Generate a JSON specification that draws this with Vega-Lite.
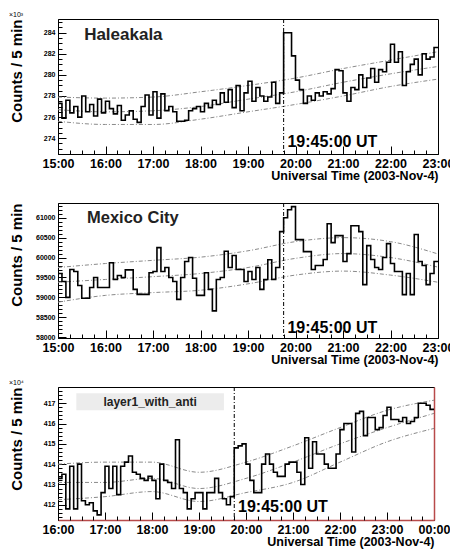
{
 "$schema": "https://vega.github.io/schema/vega-lite/v6.json",
 "padding": {"left": 8, "top": 10, "right": 8, "bottom": 0},
 "background": "white",
 "spacing": 49,
 "bounds": "flush",
 "config": {
  "font": "Liberation Sans",
  "view": {"stroke": "black", "strokeWidth": 1},
  "axis": {"grid": false, "domainColor": "black", "tickColor": "black", "labelColor": "black", "titleColor": "black", "labelFont": "Liberation Sans", "titleFont": "Liberation Sans", "labelFontWeight": "bold", "titleFontWeight": "bold", "labelOverlap": false, "labelFlush": false, "tickSize": -8},
  "axisY": {"titleFontSize": 15, "titleAnchor": "end", "titleAlign": "right", "labelFontSize": 7, "titlePadding": 8, "labelPadding": 11},
  "axisX": {"titleFontSize": 12.5, "titleAnchor": "end", "titleAlign": "right", "labelFontSize": 12.5, "labelPadding": 11, "titlePadding": 0},
  "title": {"fontSize": 7, "fontWeight": "normal", "anchor": "start", "offset": 1, "color": "black"}
 },
 "datasets": {
  "hist1": [
   {"t":15.0,"v":277.3},{"t":15.0833,"v":275.9},{"t":15.1667,"v":277.6},{"t":15.25,"v":276.4},{"t":15.3333,"v":277.0},{"t":15.4167,"v":276.0},{"t":15.5,"v":278.0},{"t":15.5833,"v":276.5},{"t":15.6667,"v":277.2},{"t":15.75,"v":276.1},{"t":15.8333,"v":277.7},{"t":15.9167,"v":276.4},
   {"t":16.0,"v":277.5},{"t":16.0833,"v":276.8},{"t":16.1667,"v":276.3},{"t":16.25,"v":277.1},{"t":16.3333,"v":275.7},{"t":16.4167,"v":276.2},{"t":16.5,"v":276.6},{"t":16.5833,"v":275.8},{"t":16.6667,"v":275.5},{"t":16.75,"v":277.0},{"t":16.8333,"v":278.1},{"t":16.9167,"v":276.2},
   {"t":17.0,"v":278.4},{"t":17.0833,"v":275.9},{"t":17.1667,"v":278.2},{"t":17.25,"v":276.6},{"t":17.3333,"v":277.0},{"t":17.4167,"v":276.5},{"t":17.5,"v":275.6},{"t":17.5833,"v":275.6},{"t":17.6667,"v":275.7},{"t":17.75,"v":276.6},{"t":17.8333,"v":276.8},{"t":17.9167,"v":277.0},
   {"t":18.0,"v":276.5},{"t":18.0833,"v":277.3},{"t":18.1667,"v":276.9},{"t":18.25,"v":277.6},{"t":18.3333,"v":277.2},{"t":18.4167,"v":278.3},{"t":18.5,"v":277.4},{"t":18.5833,"v":278.6},{"t":18.6667,"v":276.9},{"t":18.75,"v":279.0},{"t":18.8333,"v":276.6},{"t":18.9167,"v":278.3},
   {"t":19.0,"v":279.4},{"t":19.0833,"v":277.5},{"t":19.1667,"v":278.8},{"t":19.25,"v":278.0},{"t":19.3333,"v":277.5},{"t":19.4167,"v":277.9},{"t":19.5,"v":279.3},{"t":19.5833,"v":277.3},{"t":19.6667,"v":278.3},{"t":19.75,"v":284.0},{"t":19.8333,"v":284.0},{"t":19.9167,"v":281.8},
   {"t":20.0,"v":279.5},{"t":20.0833,"v":278.6},{"t":20.1667,"v":277.3},{"t":20.25,"v":278.0},{"t":20.3333,"v":277.6},{"t":20.4167,"v":278.3},{"t":20.5,"v":278.0},{"t":20.5833,"v":278.4},{"t":20.6667,"v":278.2},{"t":20.75,"v":278.7},{"t":20.8333,"v":280.5},{"t":20.9167,"v":280.4},
   {"t":21.0,"v":278.3},{"t":21.0833,"v":277.5},{"t":21.1667,"v":278.8},{"t":21.25,"v":278.6},{"t":21.3333,"v":280.0},{"t":21.4167,"v":278.8},{"t":21.5,"v":279.7},{"t":21.5833,"v":280.6},{"t":21.6667,"v":279.3},{"t":21.75,"v":280.5},{"t":21.8333,"v":280.3},{"t":21.9167,"v":281.2},
   {"t":22.0,"v":282.9},{"t":22.0833,"v":281.2},{"t":22.1667,"v":282.2},{"t":22.25,"v":279.0},{"t":22.3333,"v":280.3},{"t":22.4167,"v":281.0},{"t":22.5,"v":281.5},{"t":22.5833,"v":280.0},{"t":22.6667,"v":282.0},{"t":22.75,"v":281.5},{"t":22.8333,"v":281.7},{"t":22.9167,"v":282.6},
   {"t":23.0,"v":282.6}
  ],
  "bands1": [
   {"t":15,"s":"hi","v":277.9},{"t":16,"s":"hi","v":277.8},{"t":17,"s":"hi","v":277.9},{"t":18,"s":"hi","v":278.4},{"t":19,"s":"hi","v":279.0},{"t":20,"s":"hi","v":279.7},{"t":21,"s":"hi","v":280.6},{"t":22,"s":"hi","v":281.4},{"t":23,"s":"hi","v":282.2},
   {"t":15,"s":"mid","v":276.7},{"t":16,"s":"mid","v":276.5},{"t":17,"s":"mid","v":276.6},{"t":18,"s":"mid","v":277.0},{"t":19,"s":"mid","v":277.7},{"t":20,"s":"mid","v":278.4},{"t":21,"s":"mid","v":279.3},{"t":22,"s":"mid","v":280.1},{"t":23,"s":"mid","v":280.8},
   {"t":15,"s":"lo","v":275.6},{"t":16,"s":"lo","v":275.3},{"t":17,"s":"lo","v":275.3},{"t":18,"s":"lo","v":275.8},{"t":19,"s":"lo","v":276.5},{"t":20,"s":"lo","v":277.2},{"t":21,"s":"lo","v":278.0},{"t":22,"s":"lo","v":278.9},{"t":23,"s":"lo","v":279.6}
  ],
  "hist2": [
   {"t":15.0,"v":59600},{"t":15.0833,"v":59400},{"t":15.1667,"v":59000},{"t":15.25,"v":59700},{"t":15.3333,"v":59650},{"t":15.4167,"v":59300},{"t":15.5,"v":58980},{"t":15.5833,"v":58980},{"t":15.6667,"v":59250},{"t":15.75,"v":59500},{"t":15.8333,"v":59250},{"t":15.9167,"v":59250},
   {"t":16.0,"v":59250},{"t":16.0833,"v":59870},{"t":16.1667,"v":59450},{"t":16.25,"v":59550},{"t":16.3333,"v":59500},{"t":16.4167,"v":59690},{"t":16.5,"v":59690},{"t":16.5833,"v":59200},{"t":16.6667,"v":59075},{"t":16.75,"v":59075},{"t":16.8333,"v":59075},{"t":16.9167,"v":59620},
   {"t":17.0,"v":59650},{"t":17.0833,"v":60250},{"t":17.1667,"v":59650},{"t":17.25,"v":59750},{"t":17.3333,"v":59500},{"t":17.4167,"v":59400},{"t":17.5,"v":58950},{"t":17.5833,"v":59500},{"t":17.6667,"v":59900},{"t":17.75,"v":60000},{"t":17.8333,"v":59480},{"t":17.9167,"v":59050},
   {"t":18.0,"v":59050},{"t":18.0833,"v":59620},{"t":18.1667,"v":59200},{"t":18.25,"v":58660},{"t":18.3333,"v":59450},{"t":18.4167,"v":59500},{"t":18.5,"v":60160},{"t":18.5833,"v":59750},{"t":18.6667,"v":60050},{"t":18.75,"v":59700},{"t":18.8333,"v":59700},{"t":18.9167,"v":59400},
   {"t":19.0,"v":59650},{"t":19.0833,"v":59450},{"t":19.1667,"v":59750},{"t":19.25,"v":59200},{"t":19.3333,"v":59450},{"t":19.4167,"v":59945},{"t":19.5,"v":59450},{"t":19.5833,"v":59750},{"t":19.6667,"v":60650},{"t":19.75,"v":61000},{"t":19.8333,"v":61200},{"t":19.9167,"v":61280},
   {"t":20.0,"v":60450},{"t":20.0833,"v":60450},{"t":20.1667,"v":60150},{"t":20.25,"v":60150},{"t":20.3333,"v":59700},{"t":20.4167,"v":59800},{"t":20.5,"v":59800},{"t":20.5833,"v":59950},{"t":20.6667,"v":60850},{"t":20.75,"v":60375},{"t":20.8333,"v":60550},{"t":20.9167,"v":60550},
   {"t":21.0,"v":59900},{"t":21.0833,"v":60100},{"t":21.1667,"v":60800},{"t":21.25,"v":60800},{"t":21.3333,"v":60650},{"t":21.4167,"v":59320},{"t":21.5,"v":60300},{"t":21.5833,"v":59950},{"t":21.6667,"v":59750},{"t":21.75,"v":59700},{"t":21.8333,"v":60000},{"t":21.9167,"v":60350},
   {"t":22.0,"v":59850},{"t":22.0833,"v":59650},{"t":22.1667,"v":59650},{"t":22.25,"v":59070},{"t":22.3333,"v":59600},{"t":22.4167,"v":59070},{"t":22.5,"v":60580},{"t":22.5833,"v":59900},{"t":22.6667,"v":59800},{"t":22.75,"v":59320},{"t":22.8333,"v":59600},{"t":22.9167,"v":59900},
   {"t":23.0,"v":59900}
  ],
  "bands2": [
   {"t":15,"s":"hi","v":59750},{"t":16,"s":"hi","v":59850},{"t":17,"s":"hi","v":59930},{"t":18,"s":"hi","v":60010},{"t":19,"s":"hi","v":60170},{"t":20,"s":"hi","v":60400},{"t":21,"s":"hi","v":60500},{"t":22,"s":"hi","v":60400},{"t":23,"s":"hi","v":60090},
   {"t":15,"s":"mid","v":59380},{"t":16,"s":"mid","v":59450},{"t":17,"s":"mid","v":59520},{"t":18,"s":"mid","v":59600},{"t":19,"s":"mid","v":59750},{"t":20,"s":"mid","v":59980},{"t":21,"s":"mid","v":60100},{"t":22,"s":"mid","v":60000},{"t":23,"s":"mid","v":59760},
   {"t":15,"s":"lo","v":58880},{"t":16,"s":"lo","v":59050},{"t":17,"s":"lo","v":59120},{"t":18,"s":"lo","v":59180},{"t":19,"s":"lo","v":59340},{"t":20,"s":"lo","v":59560},{"t":21,"s":"lo","v":59660},{"t":22,"s":"lo","v":59560},{"t":23,"s":"lo","v":59380}
  ],
  "hist3": [
   {"t":16.0,"v":413.3},{"t":16.0833,"v":413.5},{"t":16.1667,"v":411.8},{"t":16.25,"v":413.9},{"t":16.3333,"v":411.8},{"t":16.4167,"v":414.0},{"t":16.5,"v":412.2},{"t":16.5833,"v":412.0},{"t":16.6667,"v":412.1},{"t":16.75,"v":411.7},{"t":16.8333,"v":411.5},{"t":16.9167,"v":412.6},
   {"t":17.0,"v":413.9},{"t":17.0833,"v":412.8},{"t":17.1667,"v":413.9},{"t":17.25,"v":412.5},{"t":17.3333,"v":413.9},{"t":17.4167,"v":414.1},{"t":17.5,"v":414.4},{"t":17.5833,"v":413.6},{"t":17.6667,"v":413.5},{"t":17.75,"v":413.3},{"t":17.8333,"v":413.2},{"t":17.9167,"v":413.4},
   {"t":18.0,"v":413.2},{"t":18.0833,"v":412.3},{"t":18.1667,"v":414.0},{"t":18.25,"v":413.2},{"t":18.3333,"v":413.1},{"t":18.4167,"v":412.8},{"t":18.5,"v":415.2},{"t":18.5833,"v":412.8},{"t":18.6667,"v":412.6},{"t":18.75,"v":411.8},{"t":18.8333,"v":412.3},{"t":18.9167,"v":412.6},
   {"t":19.0,"v":412.6},{"t":19.0833,"v":411.8},{"t":19.1667,"v":412.6},{"t":19.25,"v":412.6},{"t":19.3333,"v":413.3},{"t":19.4167,"v":412.6},{"t":19.5,"v":412.3},{"t":19.5833,"v":412.0},{"t":19.6667,"v":412.4},{"t":19.75,"v":414.8},{"t":19.8333,"v":414.9},{"t":19.9167,"v":415.0},
   {"t":20.0,"v":414.0},{"t":20.0833,"v":413.2},{"t":20.1667,"v":412.6},{"t":20.25,"v":412.6},{"t":20.3333,"v":414.0},{"t":20.4167,"v":414.5},{"t":20.5,"v":414.0},{"t":20.5833,"v":413.6},{"t":20.6667,"v":413.4},{"t":20.75,"v":413.4},{"t":20.8333,"v":414.0},{"t":20.9167,"v":414.1},
   {"t":21.0,"v":414.1},{"t":21.0833,"v":413.6},{"t":21.1667,"v":413.0},{"t":21.25,"v":415.3},{"t":21.3333,"v":413.8},{"t":21.4167,"v":415.1},{"t":21.5,"v":414.5},{"t":21.5833,"v":414.5},{"t":21.6667,"v":414.0},{"t":21.75,"v":413.8},{"t":21.8333,"v":413.8},{"t":21.9167,"v":414.5},
   {"t":22.0,"v":415.7},{"t":22.0833,"v":416.0},{"t":22.1667,"v":416.0},{"t":22.25,"v":414.6},{"t":22.3333,"v":416.5},{"t":22.4167,"v":416.6},{"t":22.5,"v":415.4},{"t":22.5833,"v":416.3},{"t":22.6667,"v":416.3},{"t":22.75,"v":415.7},{"t":22.8333,"v":415.8},{"t":22.9167,"v":416.4},
   {"t":23.0,"v":416.8},{"t":23.0833,"v":416.2},{"t":23.1667,"v":416.2},{"t":23.25,"v":416.1},{"t":23.3333,"v":416.3},{"t":23.4167,"v":416.0},{"t":23.5,"v":416.1},{"t":23.5833,"v":416.3},{"t":23.6667,"v":417.0},{"t":23.75,"v":417.0},{"t":23.8333,"v":416.9},{"t":23.9167,"v":416.7},
   {"t":24.0,"v":416.7}
  ],
  "bands3": [
   {"t":16,"s":"hi","v":414.0},{"t":17,"s":"hi","v":414.1},{"t":18,"s":"hi","v":414.1},{"t":19,"s":"hi","v":413.6},{"t":20,"s":"hi","v":414.1},{"t":21,"s":"hi","v":414.9},{"t":22,"s":"hi","v":415.8},{"t":23,"s":"hi","v":416.65},{"t":24,"s":"hi","v":417.15},
   {"t":16,"s":"mid","v":413.1},{"t":17,"s":"mid","v":413.1},{"t":18,"s":"mid","v":413.3},{"t":19,"s":"mid","v":412.8},{"t":20,"s":"mid","v":413.3},{"t":21,"s":"mid","v":414.1},{"t":22,"s":"mid","v":415.0},{"t":23,"s":"mid","v":415.8},{"t":24,"s":"mid","v":416.5},
   {"t":16,"s":"lo","v":412.25},{"t":17,"s":"lo","v":412.4},{"t":18,"s":"lo","v":412.65},{"t":19,"s":"lo","v":412.16},{"t":20,"s":"lo","v":412.6},{"t":21,"s":"lo","v":413.1},{"t":22,"s":"lo","v":414.1},{"t":23,"s":"lo","v":415.1},{"t":24,"s":"lo","v":415.76}
  ]
 },
 "vconcat": [
  {
   "width": 380, "height": 135,
   "title": {"text": "×10³"},
   "resolve": {"axis": {"x": "independent", "y": "independent"}},
   "layer": [
    {"data": {"name": "bands1"},
     "mark": {"type": "line", "color": "#8a8a8a", "strokeWidth": 1, "strokeDash": [4, 2, 1, 2], "interpolate": "monotone"},
     "encoding": {
      "x": {"field": "t", "type": "quantitative", "scale": {"domain": [15, 23], "nice": false, "zero": false},
            "axis": {"title": "Universal Time (2003-Nov-4)", "values": [15,16,17,18,19,20,21,22,23], "labelOverlap": false, "orient": "bottom",
                     "labelExpr": "((datum.value % 24 < 10 ? '0' : '') + (datum.value % 24) + ':00')"}},
      "y": {"field": "v", "type": "quantitative", "scale": {"domain": [272.5, 285.3], "nice": false, "zero": false},
            "axis": {"title": "Counts / 5 min", "values": [274,276,278,280,282,284], "labelOverlap": false, "orient": "left", "minExtent": 26, "maxExtent": 26}},
      "detail": {"field": "s"}
     }},
    {"data": {"name": "hist1"},
     "mark": {"type": "line", "interpolate": "step-after", "color": "black", "strokeWidth": 1.6},
     "encoding": {
      "x": {"field": "t", "type": "quantitative", "axis": {"orient": "bottom", "title": null, "labels": false, "domain": false, "tickSize": -4, "minExtent": 0, "maxExtent": 0, "values": [15.25,15.5,15.75,16.25,16.5,16.75,17.25,17.5,17.75,18.25,18.5,18.75,19.25,19.5,19.75,20.25,20.5,20.75,21.25,21.5,21.75,22.25,22.5,22.75]}},
      "y": {"field": "v", "type": "quantitative", "axis": {"orient": "left", "title": null, "labels": false, "domain": false, "tickSize": -4, "minExtent": 0, "maxExtent": 0, "values": [273,273.5,274.5,275,275.5,276.5,277,277.5,278.5,279,279.5,280.5,281,281.5,282.5,283,283.5,284.5,285]}}}},
    {"data": {"values": [{"t": 19.75}]},
     "mark": {"type": "rule", "color": "black", "strokeWidth": 1, "strokeDash": [4, 2, 1, 2]},
     "encoding": {"x": {"field": "t", "type": "quantitative", "axis": null}}},
    {"data": {"values": [{"t": 15.55, "v": 283.8, "label": "Haleakala"}]},
     "mark": {"type": "text", "align": "left", "baseline": "middle", "fontSize": 17, "fontWeight": "bold", "font": "Liberation Sans", "color": "#222"},
     "encoding": {"x": {"field": "t", "type": "quantitative", "axis": null}, "y": {"field": "v", "type": "quantitative", "axis": null}, "text": {"field": "label"}}},
    {"data": {"values": [{"t": 19.83, "v": 273.6, "label": "19:45:00 UT"}]},
     "mark": {"type": "text", "align": "left", "baseline": "middle", "fontSize": 16, "fontWeight": "bold", "font": "Liberation Sans", "color": "black"},
     "encoding": {"x": {"field": "t", "type": "quantitative", "axis": null}, "y": {"field": "v", "type": "quantitative", "axis": null}, "text": {"field": "label"}}}
   ]
  },
  {
   "width": 380, "height": 135,
   "resolve": {"axis": {"x": "independent", "y": "independent"}},
   "layer": [
    {"data": {"name": "bands2"},
     "mark": {"type": "line", "color": "#8a8a8a", "strokeWidth": 1, "strokeDash": [4, 2, 1, 2], "interpolate": "monotone"},
     "encoding": {
      "x": {"field": "t", "type": "quantitative", "scale": {"domain": [15, 23], "nice": false, "zero": false},
            "axis": {"title": "Universal Time (2003-Nov-4)", "values": [15,16,17,18,19,20,21,22,23], "labelOverlap": false, "orient": "bottom",
                     "labelExpr": "((datum.value % 24 < 10 ? '0' : '') + (datum.value % 24) + ':00')"}},
      "y": {"field": "v", "type": "quantitative", "scale": {"domain": [57980, 61370], "nice": false, "zero": false},
            "axis": {"title": "Counts / 5 min", "values": [58000,58500,59000,59500,60000,60500,61000], "format": "d", "labelOverlap": false, "orient": "left", "minExtent": 26, "maxExtent": 26}},
      "detail": {"field": "s"}
     }},
    {"data": {"name": "hist2"},
     "mark": {"type": "line", "interpolate": "step-after", "color": "black", "strokeWidth": 1.6},
     "encoding": {
      "x": {"field": "t", "type": "quantitative", "axis": {"orient": "bottom", "title": null, "labels": false, "domain": false, "tickSize": -4, "minExtent": 0, "maxExtent": 0, "values": [15.25,15.5,15.75,16.25,16.5,16.75,17.25,17.5,17.75,18.25,18.5,18.75,19.25,19.5,19.75,20.25,20.5,20.75,21.25,21.5,21.75,22.25,22.5,22.75]}},
      "y": {"field": "v", "type": "quantitative", "axis": {"orient": "left", "title": null, "labels": false, "domain": false, "tickSize": -4, "minExtent": 0, "maxExtent": 0, "values": [58100,58200,58300,58400,58600,58700,58800,58900,59100,59200,59300,59400,59600,59700,59800,59900,60100,60200,60300,60400,60600,60700,60800,60900,61100,61200,61300]}}}},
    {"data": {"values": [{"t": 19.75}]},
     "mark": {"type": "rule", "color": "black", "strokeWidth": 1, "strokeDash": [4, 2, 1, 2]},
     "encoding": {"x": {"field": "t", "type": "quantitative", "axis": null}}},
    {"data": {"values": [{"t": 15.61, "v": 61000, "label": "Mexico City"}]},
     "mark": {"type": "text", "align": "left", "baseline": "middle", "fontSize": 16.5, "fontWeight": "bold", "font": "Liberation Sans", "color": "#222"},
     "encoding": {"x": {"field": "t", "type": "quantitative", "axis": null}, "y": {"field": "v", "type": "quantitative", "axis": null}, "text": {"field": "label"}}},
    {"data": {"values": [{"t": 19.83, "v": 58230, "label": "19:45:00 UT"}]},
     "mark": {"type": "text", "align": "left", "baseline": "middle", "fontSize": 16, "fontWeight": "bold", "font": "Liberation Sans", "color": "black"},
     "encoding": {"x": {"field": "t", "type": "quantitative", "axis": null}, "y": {"field": "v", "type": "quantitative", "axis": null}, "text": {"field": "label"}}}
   ]
  },
  {
   "width": 376, "height": 133,
   "title": {"text": "×10⁴"},
   "resolve": {"axis": {"x": "independent", "y": "independent"}},
   "layer": [
    {"data": {"values": [{"t1": 16.39, "t2": 19.53, "v1": 416.66, "v2": 417.49}]},
     "mark": {"type": "rect", "color": "#ececec"},
     "encoding": {
      "x": {"field": "t1", "type": "quantitative", "scale": {"domain": [16, 24], "nice": false, "zero": false},
            "axis": {"title": "Universal Time (2003-Nov-4)", "domainColor": "#b84a4a", "domainWidth": 1.5, "values": [16,17,18,19,20,21,22,23,24], "labelOverlap": false, "orient": "bottom",
                     "labelExpr": "((datum.value % 24 < 10 ? '0' : '') + (datum.value % 24) + ':00')"}},
      "x2": {"field": "t2"},
      "y": {"field": "v1", "type": "quantitative", "scale": {"domain": [411.25, 417.8], "nice": false, "zero": false},
            "axis": {"title": "Counts / 5 min", "values": [412,413,414,415,416,417], "labelOverlap": false, "orient": "left", "minExtent": 26, "maxExtent": 26}},
      "y2": {"field": "v2"}
     }},
    {"data": {"name": "bands3"},
     "mark": {"type": "line", "color": "#8a8a8a", "strokeWidth": 1, "strokeDash": [4, 2, 1, 2], "interpolate": "monotone"},
     "encoding": {"x": {"field": "t", "type": "quantitative", "axis": null},
                  "y": {"field": "v", "type": "quantitative", "axis": {"orient": "right", "title": null, "labels": false, "ticks": false, "domain": true, "domainColor": "#b84a4a", "domainWidth": 1.5, "minExtent": 0, "maxExtent": 0}},
                  "detail": {"field": "s"}}},
    {"data": {"name": "hist3"},
     "mark": {"type": "line", "interpolate": "step-after", "color": "black", "strokeWidth": 1.6},
     "encoding": {
      "x": {"field": "t", "type": "quantitative", "axis": {"orient": "bottom", "title": null, "labels": false, "domain": false, "tickSize": -4, "minExtent": 0, "maxExtent": 0, "values": [16.25,16.5,16.75,17.25,17.5,17.75,18.25,18.5,18.75,19.25,19.5,19.75,20.25,20.5,20.75,21.25,21.5,21.75,22.25,22.5,22.75,23.25,23.5,23.75]}},
      "y": {"field": "v", "type": "quantitative", "axis": {"orient": "left", "title": null, "labels": false, "domain": false, "tickSize": -4, "minExtent": 0, "maxExtent": 0, "values": [411.4,411.6,411.8,412.2,412.4,412.6,412.8,413.2,413.4,413.6,413.8,414.2,414.4,414.6,414.8,415.2,415.4,415.6,415.8,416.2,416.4,416.6,416.8,417.2,417.4,417.6]}}}},
    {"data": {"values": [{"t": 19.75}]},
     "mark": {"type": "rule", "color": "black", "strokeWidth": 1, "strokeDash": [4, 2, 1, 2]},
     "encoding": {"x": {"field": "t", "type": "quantitative", "axis": null}}},
    {"data": {"values": [{"t": 17.96, "v": 417.07, "label": "layer1_with_anti"}]},
     "mark": {"type": "text", "align": "center", "baseline": "middle", "fontSize": 12, "fontWeight": "bold", "font": "Liberation Sans", "color": "#222"},
     "encoding": {"x": {"field": "t", "type": "quantitative", "axis": null}, "y": {"field": "v", "type": "quantitative", "axis": null}, "text": {"field": "label"}}},
    {"data": {"values": [{"t": 19.83, "v": 411.9, "label": "19:45:00 UT"}]},
     "mark": {"type": "text", "align": "left", "baseline": "middle", "fontSize": 16, "fontWeight": "bold", "font": "Liberation Sans", "color": "black"},
     "encoding": {"x": {"field": "t", "type": "quantitative", "axis": null}, "y": {"field": "v", "type": "quantitative", "axis": null}, "text": {"field": "label"}}}
   ]
  }
 ]
}
